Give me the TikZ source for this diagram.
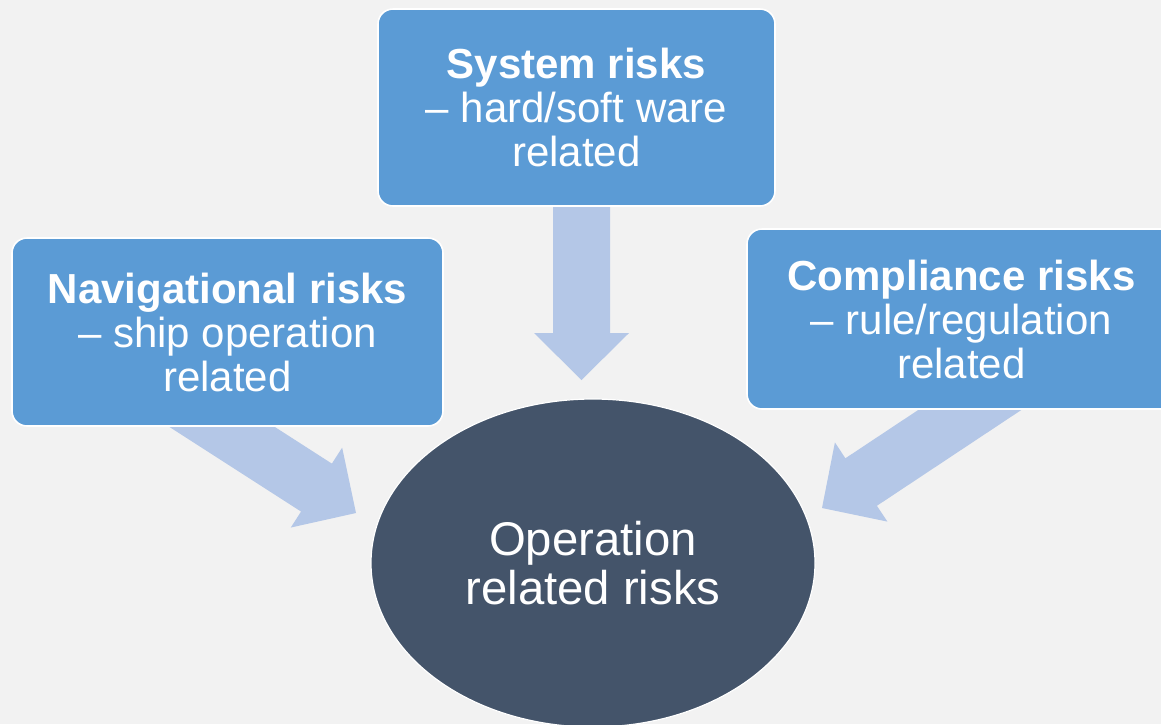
\documentclass[tikz,border=0pt]{standalone}
\usepackage{fontspec}
\setmainfont{Liberation Sans}
\usetikzlibrary{calc,shapes.geometric,backgrounds}

\definecolor{pagebg}{HTML}{F2F2F2}
\definecolor{boxblue}{HTML}{5B9BD5}
\definecolor{hubslate}{HTML}{44546A}
\definecolor{arrowblue}{HTML}{B4C7E7}

% Block arrow from #1 (tail) to #2 (tip): shaft 57, head 95 wide and 47 long
\newcommand\blockarrow[2]{%
  \path ($(#2)!47pt!(#1)$) coordinate (ba-neck);
  \fill[flowarrow]
    ($(#1)!28.5pt!90:(#2)$) -- ($(ba-neck)!28.5pt!90:(#2)$) --
    ($(ba-neck)!47.5pt!90:(#2)$) -- (#2) --
    ($(ba-neck)!47.5pt!-90:(#2)$) -- ($(ba-neck)!28.5pt!-90:(#2)$) --
    ($(#1)!28.5pt!-90:(#2)$) -- cycle;}

\begin{document}
\begin{tikzpicture}[x=1pt,y=-1pt,
  riskbox/.style={rectangle, rounded corners=15pt, fill=boxblue, draw=white,
    line width=1.6pt, text=white, align=center, inner sep=0pt,
    font=\fontsize{42}{44}\selectfont},
  hub/.style={ellipse, fill=hubslate, draw=white, line width=1.2pt,
    text=white, align=center, inner sep=0pt,
    minimum width=444pt, minimum height=328pt,
    font=\fontsize{47.3}{49}\selectfont},
  flowarrow/.style={fill=arrowblue}]

\useasboundingbox (0,0) rectangle (1161,724);
\clip (0,0) rectangle (1161,724);

% the three risk categories
\node[riskbox, minimum width=397pt, minimum height=197pt] (system) at (576.5,107.5)
  {\textbf{System risks}\\– hard/soft ware\\related};
\node[riskbox, minimum width=431pt, minimum height=188pt] (nav) at (227.5,332)
  {\textbf{Navigational risks}\\– ship operation\\related};
\node[riskbox, minimum width=429pt, minimum height=180pt] (comp) at (961.5,319)
  {\textbf{Compliance risks}\\– rule/regulation\\related};

% central topic
\node[hub] (ops) at (593,563) {Operation\\related risks};

% arrow tails sit inside the boxes, tips stop short of the ellipse
\coordinate (systemTail) at (581.5,150);
\coordinate (systemTip)  at (581.5,380);
\coordinate (navTail)    at (146,378);
\coordinate (navTip)     at (356,513);
\coordinate (compTail)   at (1030,370);
\coordinate (compTip)    at (822,508);

\begin{scope}[on background layer]
  \fill[pagebg] (0,0) rectangle (1161,724);
  \blockarrow{systemTail}{systemTip}
  \blockarrow{navTail}{navTip}
  \blockarrow{compTail}{compTip}
\end{scope}
\end{tikzpicture}
\end{document}
